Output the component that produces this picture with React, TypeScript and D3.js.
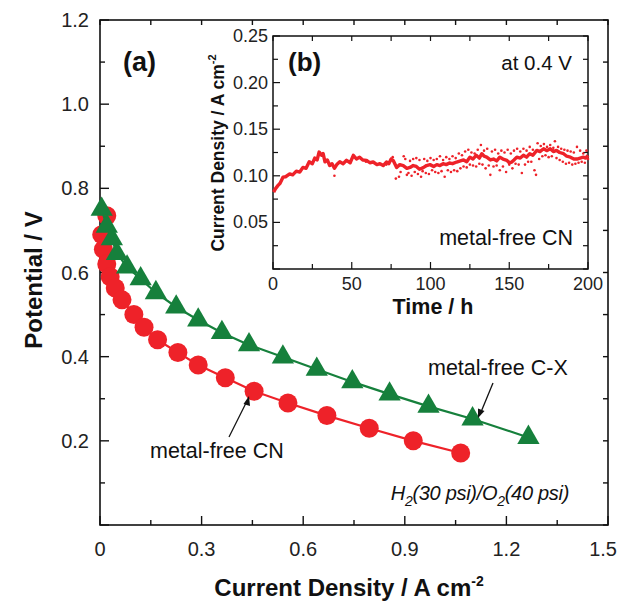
import React from "react";
import * as d3 from "d3";

// ---- Main panel (a) data ----
const cnX = [0.02, 0.005, 0.01, 0.02, 0.03, 0.045, 0.065, 0.1, 0.13, 0.17, 0.23, 0.29, 0.37, 0.455, 0.555, 0.67, 0.795, 0.925, 1.065];
const cnY = [0.735, 0.69, 0.655, 0.62, 0.59, 0.563, 0.535, 0.5, 0.47, 0.44, 0.41, 0.38, 0.35, 0.318, 0.29, 0.26, 0.23, 0.2, 0.171];
const cxX = [0.005, 0.02, 0.035, 0.05, 0.08, 0.12, 0.165, 0.225, 0.29, 0.36, 0.44, 0.54, 0.64, 0.745, 0.855, 0.97, 1.1, 1.265];
const cxY = [0.75, 0.71, 0.68, 0.645, 0.613, 0.585, 0.552, 0.518, 0.487, 0.457, 0.428, 0.399, 0.37, 0.34, 0.311, 0.282, 0.252, 0.208];
const mainXTicks = [0, 0.3, 0.6, 0.9, 1.2, 1.5];
const mainXTickLabels = ["0", "0.3", "0.6", "0.9", "1.2", "1.5"];
const mainYTicks = [0.2, 0.4, 0.6, 0.8, 1.0, 1.2];
const mainYTickLabels = ["0.2", "0.4", "0.6", "0.8", "1.0", "1.2"];

// ---- Inset (b) data ----
const trendT = [0.4, 1.5, 3.2, 4.5, 6.4, 8, 10.6, 12.5, 14.8, 17, 19, 21, 23, 25, 26.5, 28, 29.3, 30.8, 31.8, 33, 34.5, 36, 37.5, 39, 40.5, 42.4, 44.5, 46.7, 49, 51, 53, 55, 57, 59.4, 61.5, 63.6, 66, 67.9, 70, 72, 73.5, 75, 76.5, 78.5, 80.5, 82.7, 85, 87, 89, 91, 93, 95.4, 97.5, 99.7, 102, 104, 106, 108, 110, 112, 114, 116.6, 119, 121, 123, 125, 127, 129, 131, 132.6, 134, 135.7, 138, 140, 142, 144, 146, 148.5, 150, 151.6, 153, 154.8, 157, 159, 161, 163, 165, 167.5, 169.5, 171.8, 174, 176, 178, 180, 182, 184.5, 186.5, 188.8, 191, 193, 195, 197, 198.5, 200];
const trendV = [0.0825, 0.086, 0.0897, 0.092, 0.0986, 0.099, 0.102, 0.101, 0.105, 0.104, 0.109, 0.108, 0.115, 0.113, 0.119, 0.117, 0.1255, 0.122, 0.124, 0.115, 0.117, 0.111, 0.113, 0.108, 0.112, 0.115, 0.113, 0.1166, 0.114, 0.122, 0.118, 0.12, 0.117, 0.1166, 0.114, 0.1148, 0.112, 0.113, 0.111, 0.1148, 0.113, 0.118, 0.116, 0.109, 0.112, 0.111, 0.108, 0.109, 0.111, 0.11, 0.107, 0.1087, 0.111, 0.112, 0.11, 0.112, 0.111, 0.113, 0.112, 0.1137, 0.113, 0.1148, 0.116, 0.117, 0.115, 0.12, 0.118, 0.122, 0.119, 0.1237, 0.121, 0.12, 0.117, 0.118, 0.116, 0.12, 0.118, 0.1166, 0.114, 0.1148, 0.117, 0.12, 0.119, 0.122, 0.12, 0.1237, 0.122, 0.1273, 0.126, 0.129, 0.127, 0.129, 0.126, 0.1273, 0.125, 0.1237, 0.121, 0.12, 0.118, 0.118, 0.119, 0.12, 0.119, 0.122];
const dotT = [39, 59, 72, 76, 78, 80, 81, 83, 84, 85, 86, 87, 88, 89, 90, 91, 92, 93, 94, 95, 96, 97, 98, 99, 100, 101, 102, 103, 104, 105, 106, 107, 108, 109, 110, 111, 112, 113, 114, 115, 116, 117, 118, 119, 120, 121, 122, 123, 124, 125, 126, 127, 128, 129, 130, 131, 132, 133, 134, 135, 136, 137, 138, 139, 140, 141, 142, 143, 144, 145, 146, 147, 148, 149, 150, 151, 152, 153, 154, 155, 156, 157, 158, 159, 160, 161, 162, 163, 164, 165, 166, 167, 168, 169, 170, 171, 172, 173, 174, 175, 176, 177, 178, 179, 180, 181, 182, 183, 184, 185, 186, 187, 188, 189, 190, 191, 192, 193, 194, 195, 196, 197, 198, 199, 200];
const dotV = [0.1, 0.115, 0.112, 0.12, 0.097, 0.099, 0.104, 0.121, 0.118, 0.101, 0.103, 0.116, 0.1, 0.118, 0.104, 0.119, 0.102, 0.117, 0.099, 0.105, 0.118, 0.103, 0.116, 0.102, 0.119, 0.106, 0.117, 0.104, 0.118, 0.103, 0.121, 0.105, 0.117, 0.099, 0.12, 0.106, 0.118, 0.104, 0.121, 0.106, 0.119, 0.105, 0.124, 0.108, 0.122, 0.11, 0.126, 0.109, 0.128, 0.112, 0.125, 0.111, 0.124, 0.11, 0.128, 0.113, 0.133, 0.112, 0.127, 0.108, 0.129, 0.111, 0.101, 0.126, 0.11, 0.128, 0.111, 0.124, 0.106, 0.127, 0.11, 0.125, 0.104, 0.128, 0.112, 0.124, 0.108, 0.127, 0.113, 0.129, 0.112, 0.126, 0.103, 0.129, 0.112, 0.127, 0.115, 0.131, 0.115, 0.128, 0.106, 0.101, 0.135, 0.118, 0.132, 0.121, 0.134, 0.122, 0.131, 0.12, 0.133, 0.121, 0.13, 0.137, 0.119, 0.131, 0.117, 0.129, 0.115, 0.128, 0.113, 0.127, 0.114, 0.126, 0.112, 0.125, 0.113, 0.131, 0.114, 0.127, 0.115, 0.124, 0.114, 0.127, 0.118];
const insetXTicks = [0, 50, 100, 150, 200];
const insetYTicks = [0.05, 0.1, 0.15, 0.2, 0.25];
const insetYTickLabels = ["0.05", "0.10", "0.15", "0.20", "0.25"];

const RED = "#ee2229";
const GREEN = "#16803c";
const FONT = "'Liberation Sans', Arial, Helvetica, sans-serif";

export default function App() {
  // main scales
  const x = d3.scaleLinear().domain([0, 1.5]).range([100, 608]);
  const y = d3.scaleLinear().domain([0, 1.2]).range([525, 20]);
  // inset scales
  const ix = d3.scaleLinear().domain([0, 200]).range([273, 588]);
  const iy = d3.scaleLinear().domain([0, 0.25]).range([269, 36]);

  const cn = cnX.map((v, i) => [v, cnY[i]] as [number, number]);
  const cx = cxX.map((v, i) => [v, cxY[i]] as [number, number]);
  const line = d3.line<[number, number]>().x((d) => x(d[0])).y((d) => y(d[1]));
  const trend = trendT.map((t, i) => [t, trendV[i]] as [number, number]);
  const tline = d3.line<[number, number]>().x((d) => ix(d[0])).y((d) => iy(d[1]));
  const tri = d3.symbol().type(d3.symbolTriangle).size(215)();

  const xMinor = d3.range(0, 1.5001, 0.15);
  const yMinor = d3.range(0, 1.2001, 0.1);
  const ixMinor = d3.range(0, 200.01, 25);
  const iyMinor = d3.range(0, 0.2501, 0.025);

  const tk = "#111";

  return (
    <svg width={619} height={601} style={{ display: "block", position: "absolute", left: 0, top: 0, background: "#fff" }} fontFamily={FONT}>
      {/* main frame */}
      <rect x={100} y={20} width={508} height={505} fill="none" stroke={tk} strokeWidth={1.6} />
      {xMinor.map((v, i) => {
        const major = i % 2 === 0;
        const L = major ? 9 : 5;
        return (
          <g key={"xm" + i}>
            <line x1={x(v)} x2={x(v)} y1={525} y2={525 - L} stroke={tk} strokeWidth={1.4} />
            <line x1={x(v)} x2={x(v)} y1={20} y2={20 + 5} stroke={tk} strokeWidth={1.4} />
          </g>
        );
      })}
      {yMinor.map((v, i) => {
        const major = i % 2 === 0;
        const L = major ? 9 : 5;
        return (
          <g key={"ym" + i}>
            <line x1={100} x2={100 + L} y1={y(v)} y2={y(v)} stroke={tk} strokeWidth={1.4} />
            <line x1={608} x2={608 - 5} y1={y(v)} y2={y(v)} stroke={tk} strokeWidth={1.4} />
          </g>
        );
      })}
      {mainXTicks.map((v, i) => {
        const last = i === mainXTicks.length - 1;
        return (
          <text key={"xl" + i} x={last ? 617 : x(v)} y={556} fontSize={20} textAnchor={last ? "end" : "middle"} fill="#222">{mainXTickLabels[i]}</text>
        );
      })}
      {mainYTicks.map((v, i) => (
        <text key={"yl" + i} x={89} y={y(v) + 7} fontSize={20} textAnchor="end" fill="#222">{mainYTickLabels[i]}</text>
      ))}
      <text x={349} y={596} fontSize={24} fontWeight="bold" textAnchor="middle" fill="#111">
        Current Density / A cm<tspan dy={-10} fontSize={14}>-2</tspan>
      </text>
      <text transform="translate(42,280) rotate(-90)" fontSize={24} fontWeight="bold" textAnchor="middle" fill="#111">Potential / V</text>

      {/* series */}
      <path d={line(cn) || ""} fill="none" stroke={RED} strokeWidth={2.2} />
      {cn.map((d, i) => (
        <circle key={"c" + i} cx={x(d[0])} cy={y(d[1])} r={9.5} fill={RED} />
      ))}
      <path d={line(cx) || ""} fill="none" stroke={GREEN} strokeWidth={2.2} />
      {cx.map((d, i) => (
        <path key={"t" + i} d={tri || ""} transform={`translate(${x(d[0])},${y(d[1])})`} fill={GREEN} />
      ))}

      {/* annotations */}
      <text x={123} y={71} fontSize={27} fontWeight="bold" fill="#111">(a)</text>
      <text x={150} y={458} fontSize={21.5} fill="#111">metal-free CN</text>
      <line x1={229} y1={437} x2={247} y2={401} stroke="#111" strokeWidth={1.3} />
      <path d="M249,396 L243.5,404 L250,406 Z" fill="#111" />
      <text x={428} y={375} fontSize={21.5} fill="#111">metal-free C-X</text>
      <line x1={493} y1={383} x2={481} y2={412} stroke="#111" strokeWidth={1.3} />
      <path d="M478,418 L478,408.5 L484.5,411 Z" fill="#111" />
      <text x={569} y={500} fontSize={20} fontStyle="italic" textAnchor="end" fill="#111" letterSpacing={-0.3}>
        H<tspan dy={6} fontSize={14}>2</tspan><tspan dy={-6}>(30 psi)/O</tspan><tspan dy={6} fontSize={14}>2</tspan><tspan dy={-6}>(40 psi)</tspan>
      </text>

      {/* inset */}
      <rect x={273} y={36} width={315} height={233} fill="#fff" stroke={tk} strokeWidth={1.5} />
      {ixMinor.map((v, i) => {
        const L = i % 2 === 0 ? 7 : 5;
        return (
          <g key={"ixm" + i}>
            <line x1={ix(v)} x2={ix(v)} y1={269} y2={269 - L} stroke={tk} strokeWidth={1.2} />
            <line x1={ix(v)} x2={ix(v)} y1={36} y2={36 + 5} stroke={tk} strokeWidth={1.2} />
          </g>
        );
      })}
      {iyMinor.map((v, i) => {
        const L = i % 2 === 0 ? 7 : 5;
        return (
          <g key={"iym" + i}>
            <line x1={273} x2={273 + L} y1={iy(v)} y2={iy(v)} stroke={tk} strokeWidth={1.2} />
            <line x1={588} x2={588 - 5} y1={iy(v)} y2={iy(v)} stroke={tk} strokeWidth={1.2} />
          </g>
        );
      })}
      {insetXTicks.map((v, i) => (
        <text key={"ixl" + i} x={ix(v)} y={290} fontSize={18} textAnchor="middle" fill="#222">{String(v)}</text>
      ))}
      {insetYTicks.map((v, i) => (
        <text key={"iyl" + i} x={268} y={iy(v) + 6} fontSize={18} textAnchor="end" fill="#222">{insetYTickLabels[i]}</text>
      ))}
      <text x={433} y={314} fontSize={21.5} fontWeight="bold" textAnchor="middle" fill="#111">Time / h</text>
      <text transform="translate(224,153) rotate(-90)" fontSize={17.5} fontWeight="bold" textAnchor="middle" fill="#111">
        Current Density / A cm<tspan dy={-8} fontSize={11}>-2</tspan>
      </text>
      {dotT.map((t, i) => (
        <circle key={"d" + i} cx={ix(t)} cy={iy(dotV[i])} r={1.3} fill={RED} />
      ))}
      <path d={tline(trend) || ""} fill="none" stroke={RED} strokeWidth={3.4} strokeLinejoin="round" />
      <text x={288} y={71} fontSize={26} fontWeight="bold" fill="#111">(b)</text>
      <text x={572} y={70} fontSize={20.5} textAnchor="end" fill="#111">at 0.4 V</text>
      <text x={573} y={245} fontSize={21.5} textAnchor="end" fill="#111">metal-free CN</text>
    </svg>
  );
}
